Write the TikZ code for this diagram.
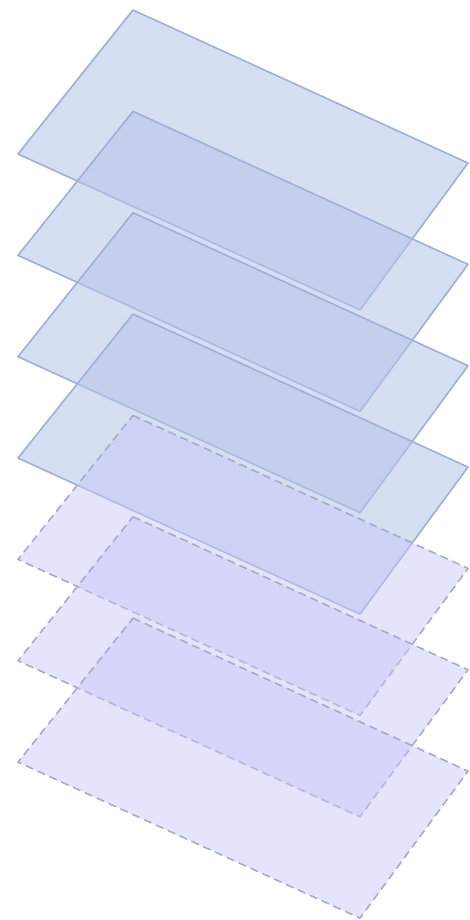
\documentclass[tikz,border=0pt]{standalone}
\definecolor{solidfill}{RGB}{182,196,232}
\definecolor{solidline}{RGB}{158,176,212}
\definecolor{dashfill}{RGB}{199,199,249}
\definecolor{dashline}{RGB}{168,170,204}
\tikzset{
  solidplane/.style={fill=solidfill, fill opacity=0.56, draw=solidline, line width=1.6pt, line join=round},
  dashplane/.style={fill=dashfill, fill opacity=0.48, draw=dashline, line width=1.6pt, line join=round, dash pattern=on 8pt off 5pt}
}
\begin{document}
\begin{tikzpicture}[x=1pt,y=-1pt]
\useasboundingbox (0,0) rectangle (469,920);
\foreach \i in {0,...,6}{
  \pgfmathsetmacro{\t}{10+101.35*\i}
  \coordinate (T\i) at (133,\t);
  \coordinate (R\i) at (468,\t+153);
  \coordinate (B\i) at (360,\t+300);
  \coordinate (L\i) at (18,\t+144);
}
\foreach \i in {0,...,3}{
  \path[solidplane] (T\i) -- (R\i) -- (B\i) -- (L\i) -- cycle;
}
\foreach \i in {4,...,6}{
  \path[dashplane] (T\i) -- (R\i) -- (B\i) -- (L\i) -- cycle;
}
\end{tikzpicture}
\end{document}
